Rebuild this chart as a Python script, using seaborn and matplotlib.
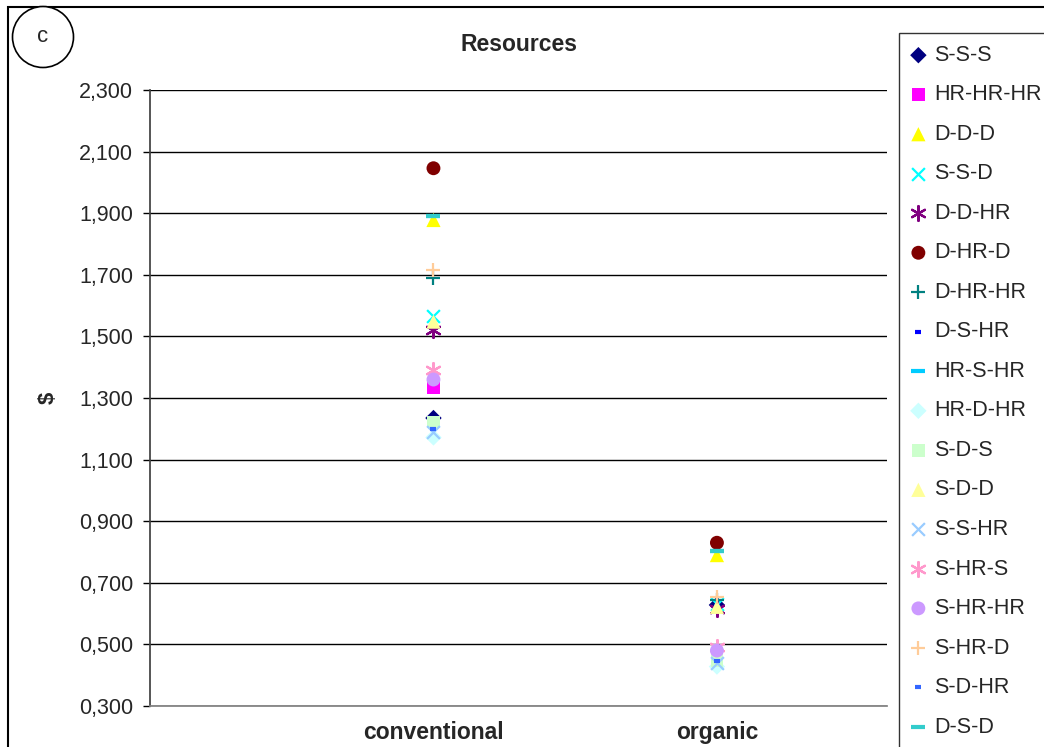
import matplotlib
matplotlib.use("Agg")
import matplotlib.pyplot as plt
import seaborn as sns
import pandas as pd
from matplotlib.ticker import FuncFormatter

# series names, in legend order
series = ['S-S-S', 'HR-HR-HR', 'D-D-D', 'S-S-D', 'D-D-HR', 'D-HR-D', 'D-HR-HR',
          'D-S-HR', 'HR-S-HR', 'HR-D-HR', 'S-D-S', 'S-D-D', 'S-S-HR', 'S-HR-S',
          'S-HR-HR', 'S-HR-D', 'S-D-HR', 'D-S-D']
systems = ['conventional', 'organic']

conventional = [1.235, 1.335, 1.878, 1.565, 1.522, 2.046, 1.690, 1.540, 1.890,
                1.172, 1.222, 1.548, 1.188, 1.390, 1.360, 1.716, 1.199, 1.890]
organic = [0.628, 0.470, 0.790, 0.630, 0.615, 0.830, 0.645, 0.625, 0.803,
           0.428, 0.449, 0.622, 0.440, 0.490, 0.480, 0.655, 0.446, 0.803]

y_ticks = [0.3, 0.5, 0.7, 0.9, 1.1, 1.3, 1.5, 1.7, 1.9, 2.1, 2.3]

# estilo de cada série (cor, marcador, tamanho)
estilos = {
    'S-S-S': ('#000080', 'D', 70),
    'HR-HR-HR': ('#FF00FF', 's', 85),
    'D-D-D': ('#FFFF00', '^', 105),
    'S-S-D': ('#00FFFF', 'x', 85),
    'D-D-HR': ('#800080', (6, 2, 0), 115),
    'D-HR-D': ('#800000', 'o', 100),
    'D-HR-HR': ('#008080', '+', 115),
    'D-S-HR': ('#0000FF', '_', 25),
    'HR-S-HR': ('#00CCFF', '_', 90),
    'HR-D-HR': ('#CCFFFF', 'D', 70),
    'S-D-S': ('#CCFFCC', 's', 85),
    'S-D-D': ('#FFFF99', '^', 105),
    'S-S-HR': ('#99CCFF', 'x', 85),
    'S-HR-S': ('#FF99CC', (6, 2, 0), 115),
    'S-HR-HR': ('#CC99FF', 'o', 100),
    'S-HR-D': ('#FFCC99', '+', 115),
    'S-D-HR': ('#3366FF', '_', 25),
    'D-S-D': ('#33CCCC', '_', 90),
}

df = pd.DataFrame({
    'serie': series * 2,
    'sistema': [systems[0]] * len(series) + [systems[1]] * len(series),
    'valor': conventional + organic,
})
df['pos'] = df['sistema'].map({s: i for i, s in enumerate(systems)})

sns.set_theme(style='white')
plt.rcParams['font.family'] = ['Liberation Sans', 'DejaVu Sans']

fig = plt.figure(figsize=(10.44, 7.47), dpi=100)
ax = fig.add_axes([150 / 1044, 1 - 706 / 747, (887 - 150) / 1044, (706 - 90) / 747])

for nome in series:
    cor, marcador, tam = estilos[nome]
    sub = df[df['serie'] == nome]
    preenchido = marcador in ('D', 's', '^', 'o')
    kws = dict(edgecolor='none') if preenchido else dict(linewidth=3 if marcador == '_' else 1.6)
    sns.scatterplot(data=sub, x='pos', y='valor', color=cor, marker=marcador, s=tam,
                    label=nome, ax=ax, zorder=3, **kws)

ax.set_xlim(-1.0, 1.6)
ax.set_ylim(0.3, 2.3)
ax.set_yticks(y_ticks)
ax.yaxis.set_major_formatter(FuncFormatter(lambda v, p: f"{v:.3f}".replace('.', ',')))
ax.set_xticks(range(len(systems)))
ax.set_xticklabels(systems, fontweight='bold', fontsize=16.5)
ax.tick_params(axis='y', left=True, length=5, width=1, color='black', labelsize=15.5, pad=7)
ax.tick_params(axis='x', bottom=False, pad=5)
ax.grid(axis='y', color='black', linewidth=1)
ax.grid(axis='x', visible=False)
for lado in ['top', 'right']:
    ax.spines[lado].set_visible(False)
ax.spines['left'].set_color('#404040')
ax.spines['bottom'].set_color('#808080')
ax.set_xlabel('')
ax.set_ylabel('$', fontweight='bold', fontsize=16, labelpad=15)
ax.set_title('Resources', fontweight='bold', fontsize=16.5, pad=28)

leg = ax.legend(loc='upper left', bbox_to_anchor=(899 / 1044, 1 - 33 / 747),
                bbox_transform=fig.transFigure, frameon=True, fancybox=False,
                edgecolor='black', fontsize=15.5, labelspacing=0.86, handlelength=0.7,
                handletextpad=0.4, borderpad=0.55, borderaxespad=0)
leg.get_frame().set_linewidth(1)

# moldura externa e o rótulo "c"
moldura = plt.Rectangle((8 / 1044, -0.05), 1.0, 1.05 - 7 / 747, transform=fig.transFigure,
                        fill=False, edgecolor='black', linewidth=1.5, clip_on=False)
fig.patches.append(moldura)
fig.text(43 / 1044, 1 - 37 / 747, 'c', fontsize=16, ha='center', va='center',
         bbox=dict(boxstyle='circle,pad=0.9', fc='white', ec='black', lw=1.2))

fig.savefig('out.png', dpi=100)
